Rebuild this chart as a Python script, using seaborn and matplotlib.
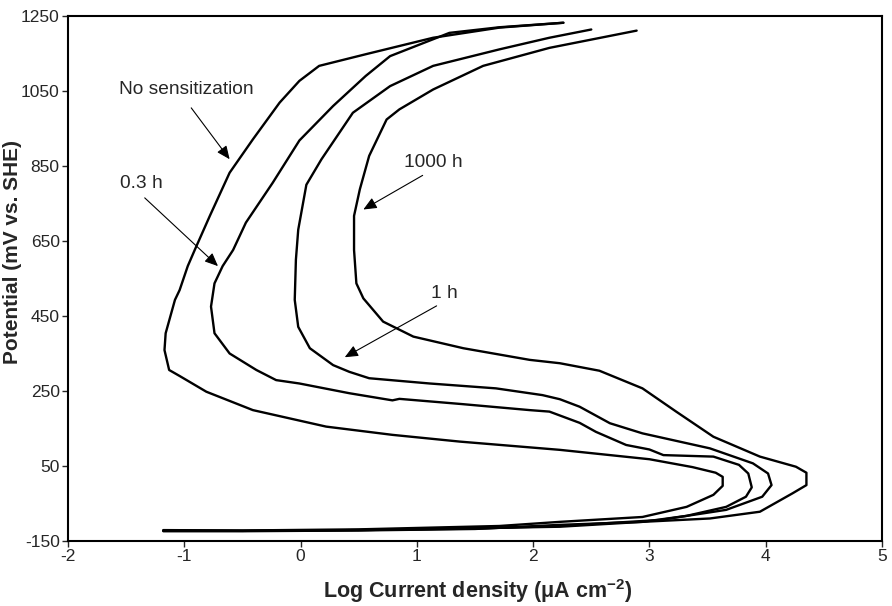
import pandas as pd
import matplotlib
matplotlib.use("Agg")
import matplotlib.pyplot as plt
import seaborn as sns

# polarization curves (log i in uA/cm2, E in mV vs SHE)
no_sens_x = [-1.18, -0.5, 0.5, 1.71, 2.23, 2.94, 3.32, 3.55, 3.63, 3.63, 3.57, 3.37, 3.0, 2.23, 1.37,
             0.79, 0.22, -0.41, -0.81, -1.04, -1.13, -1.17, -1.16, -1.08, -1.04, -0.97, -0.91, -0.78,
             -0.61, -0.41, -0.18, -0.01, 0.16, 0.56, 1.14, 1.71, 2.26]
no_sens_y = [-121, -122, -119, -110, -99, -86, -59, -27, -3, 21, 32, 47, 68, 93, 115,
             133, 155, 199, 248, 290, 306, 359, 404, 493, 519, 583, 626, 717,
             832, 921, 1019, 1077, 1117, 1148, 1192, 1219, 1232]

h03_x = [-1.18, -0.5, 0.5, 1.5, 2.23, 2.94, 3.32, 3.66, 3.83, 3.88, 3.85, 3.77, 3.55, 3.12, 3.0,
         2.80, 2.54, 2.40, 2.14, 1.97, 1.39, 0.85, 0.79, 0.42, -0.01, -0.21, -0.38, -0.61, -0.74,
         -0.77, -0.74, -0.67, -0.58, -0.47, -0.24, -0.01, 0.28, 0.56, 0.77, 1.14, 1.28, 1.71, 2.26]
h03_y = [-122, -123, -121, -116, -112, -99, -83, -59, -32, -7, 30, 53, 75, 79, 94,
         106, 141, 165, 195, 199, 215, 229, 225, 244, 270, 279, 306, 350, 404,
         475, 537, 583, 626, 699, 805, 918, 1010, 1090, 1143, 1188, 1205, 1220, 1232]

h1_x = [-1.18, -0.5, 0.5, 1.5, 2.23, 3.09, 3.66, 3.97, 4.05, 4.02, 3.89, 3.52, 2.94, 2.66, 2.40,
        2.23, 2.08, 1.68, 1.11, 0.59, 0.42, 0.28, 0.08, -0.02, -0.05, -0.04, -0.02, 0.05, 0.18,
        0.45, 0.77, 1.14, 1.71, 2.14, 2.50]
h1_y = [-123, -123, -121, -117, -110, -94, -67, -32, -1, 30, 57, 97, 137, 164, 208,
        228, 239, 257, 270, 284, 301, 319, 364, 421, 493, 600, 680, 800, 868,
        992, 1063, 1117, 1161, 1192, 1214]

h1000_x = [-1.18, -0.5, 0.5, 1.5, 2.23, 2.94, 3.52, 3.95, 4.23, 4.35, 4.35, 4.26, 3.95, 3.55, 3.23,
           2.94, 2.57, 2.23, 1.97, 1.40, 0.97, 0.71, 0.54, 0.48, 0.46, 0.46, 0.51, 0.59, 0.74,
           0.85, 1.14, 1.57, 2.14, 2.89]
h1000_y = [-124, -124, -122, -118, -107, -99, -90, -72, -23, -1, 32, 48, 75, 128, 195,
           257, 304, 324, 333, 364, 395, 435, 497, 537, 626, 717, 788, 877, 974,
           1001, 1054, 1117, 1165, 1211]

x_ticks = [-2, -1, 0, 1, 2, 3, 4, 5]
y_ticks = [-150, 50, 250, 450, 650, 850, 1050, 1250]

sns.set_style("ticks")
plt.rcParams["font.family"] = ["Liberation Sans", "DejaVu Sans"]
plt.rcParams["mathtext.default"] = "regular"
plt.rcParams["axes.unicode_minus"] = False

fig = plt.figure(figsize=(8.92, 6.06), dpi=100)
ax = fig.add_axes([0.0762, 0.1073, 0.9126, 0.8663])

curves = [(no_sens_x, no_sens_y), (h03_x, h03_y), (h1_x, h1_y), (h1000_x, h1000_y)]
for cx, cy in curves:
    sns.lineplot(x=cx, y=cy, sort=False, estimator=None, color="black", lw=1.7, ax=ax)

# labels + arrows
arrow = dict(arrowstyle="-|>,head_length=0.8,head_width=0.35", color="black", lw=0.8,
             shrinkA=0, shrinkB=0)
notes = [("No sensitization", (-0.61, 868), (-0.98, 1053), (-0.94, 1005)),
         ("0.3 h", (-0.71, 583), (-1.37, 804), (-1.34, 765)),
         ("1000 h", (0.54, 734), (1.14, 859), (1.05, 825)),
         ("1 h", (0.38, 340), (1.24, 509), (1.17, 477))]
for txt, head, tpos, tail in notes:
    ax.annotate("", xy=head, xytext=tail, arrowprops=arrow)
    ax.text(tpos[0], tpos[1], txt, ha="center", va="center", fontsize=13.8)

ax.set_xlim(-2, 5)
ax.set_ylim(-150, 1250)
ax.set_xticks(x_ticks)
ax.set_yticks(y_ticks)
ax.tick_params(direction="out", length=4, width=1, labelsize=12.5, pad=2)
for s in ax.spines.values():
    s.set_linewidth(1.5)
    s.set_color("black")

ax.set_xlabel("Log Current density (μA cm$^{-2}$)", fontsize=15.5, fontweight="bold")
ax.set_ylabel("Potential (mV vs. SHE)", fontsize=15, fontweight="bold")
ax.xaxis.set_label_coords(0.503, -0.069)
ax.yaxis.set_label_coords(-0.057, 0.55)

fig.savefig("out.png", dpi=100)
